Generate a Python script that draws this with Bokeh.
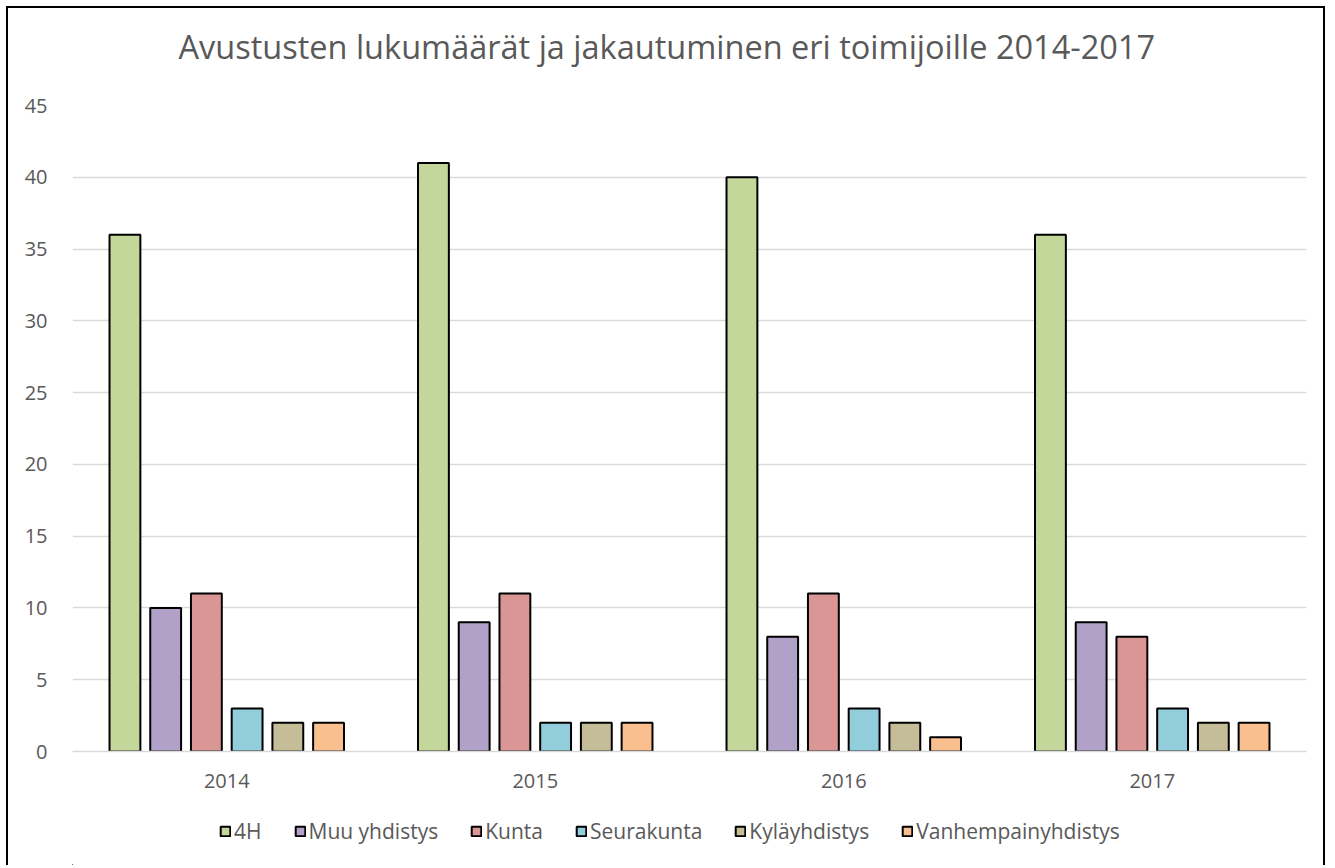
from bokeh.plotting import figure
from bokeh.layouts import column
from bokeh.models import FactorRange, Range1d, Legend, LegendItem, ColumnDataSource, FixedTicker, Title
from bokeh.transform import dodge
from bokeh.embed import file_html
from bokeh.resources import INLINE

years = ["2014", "2015", "2016", "2017"]
series = ["4H", "Muu yhdistys", "Kunta", "Seurakunta", "Kyläyhdistys", "Vanhempainyhdistys"]
v_4h = [36, 41, 40, 36]
v_muu = [10, 9, 8, 9]
v_kunta = [11, 11, 11, 8]
v_seurakunta = [3, 2, 3, 3]
v_kyla = [2, 2, 2, 2]
v_vanhempain = [2, 2, 1, 2]
y_ticks = [0, 5, 10, 15, 20, 25, 30, 35, 40, 45]
title_text = "Avustusten lukumäärät ja jakautuminen eri toimijoille 2014-2017"

colors = ["#C4D79B", "#B1A0C7", "#DA9694", "#92CDDC", "#C4BD97", "#FABF8F"]
values = [v_4h, v_muu, v_kunta, v_seurakunta, v_kyla, v_vanhempain]

data = {"year": years}
for i, v in enumerate(values):
    data[f"s{i}"] = v
src = ColumnDataSource(data)

FONT = "Open Sans"
GREY = "#595959"
BORDER = "2px solid black"

fig = figure(
    x_range=FactorRange(*years, range_padding=0),
    y_range=Range1d(0, 45),
    frame_width=1230, frame_height=644,
    output_backend="svg", toolbar_location=None, title=None,
    min_border_left=64, min_border_right=21, min_border_top=97, min_border_bottom=56,
)
fig.margin = (6, 0, 0, 6)
fig.styles = {"border-top": BORDER, "border-left": BORDER, "border-right": BORDER}

# spacer between the frame and the title
spacer = Title(text=" ", text_font_size="1px", standoff=34)
fig.add_layout(spacer, "above")
title = Title(text=title_text, align="left", offset=106, vertical_align="bottom",
              text_font=FONT, text_font_size="32.5px", text_font_style="normal",
              text_color=GREY, standoff=0)
fig.add_layout(title, "above")

fig.outline_line_color = None

offsets = [-0.330, -0.198, -0.066, 0.066, 0.198, 0.330]
for i, name in enumerate(series):
    fig.vbar(x=dodge("year", offsets[i], range=fig.x_range), top=f"s{i}", width=0.1,
             source=src, fill_color=colors[i], line_color="black", line_width=2)

fig.yaxis.ticker = FixedTicker(ticks=y_ticks)
fig.yaxis.axis_line_color = None
fig.yaxis.major_tick_line_color = None
fig.yaxis.major_tick_out = 0
fig.yaxis.major_tick_in = 0
fig.yaxis.minor_tick_line_color = None
fig.yaxis.major_label_standoff = 25
fig.yaxis.major_label_text_font = FONT
fig.yaxis.major_label_text_font_size = "20px"
fig.yaxis.major_label_text_color = GREY

fig.xaxis.axis_line_color = "#D9D9D9"
fig.xaxis.axis_line_width = 1.5
fig.xaxis.major_tick_line_color = None
fig.xaxis.major_tick_out = 0
fig.xaxis.major_tick_in = 0
fig.xaxis.minor_tick_line_color = None
fig.xaxis.major_label_standoff = 22
fig.xaxis.major_label_text_font = FONT
fig.xaxis.major_label_text_font_size = "20px"
fig.xaxis.major_label_text_color = GREY

fig.xgrid.grid_line_color = None
fig.ygrid.grid_line_color = "#D9D9D9"
fig.ygrid.grid_line_width = 1.5

# legend strip below the chart (same frame geometry as the chart)
lf = figure(frame_width=1230, frame_height=60,
            x_range=Range1d(0, 1), y_range=Range1d(0, 1),
            x_axis_type=None, y_axis_type=None, output_backend="svg",
            toolbar_location=None,
            min_border_left=64, min_border_right=21, min_border_top=0, min_border_bottom=0)
lf.margin = (0, 0, 0, 6)
lf.styles = {"border-left": BORDER, "border-right": BORDER}
lf.outline_line_color = None
lf.xgrid.grid_line_color = None
lf.ygrid.grid_line_color = None
items = []
for i, name in enumerate(series):
    # legend swatch renderer: one bar kept outside the strip's visible range
    r = lf.vbar(x=[-1], top=[0], width=0.1, fill_color=colors[i],
                line_color="black", line_width=2)
    items.append(LegendItem(label=name, renderers=[r]))
legend = Legend(items=items, orientation="horizontal", location=(147, 20),
                glyph_width=12, glyph_height=12, label_standoff=3, spacing=32,
                label_text_font=FONT, label_text_font_size="21px", label_text_color=GREY,
                border_line_color=None, background_fill_alpha=0, margin=0, padding=0)
lf.add_layout(legend, "center")

p = column(fig, lf, spacing=0)

open("out.html", "w").write(file_html(p, INLINE))
